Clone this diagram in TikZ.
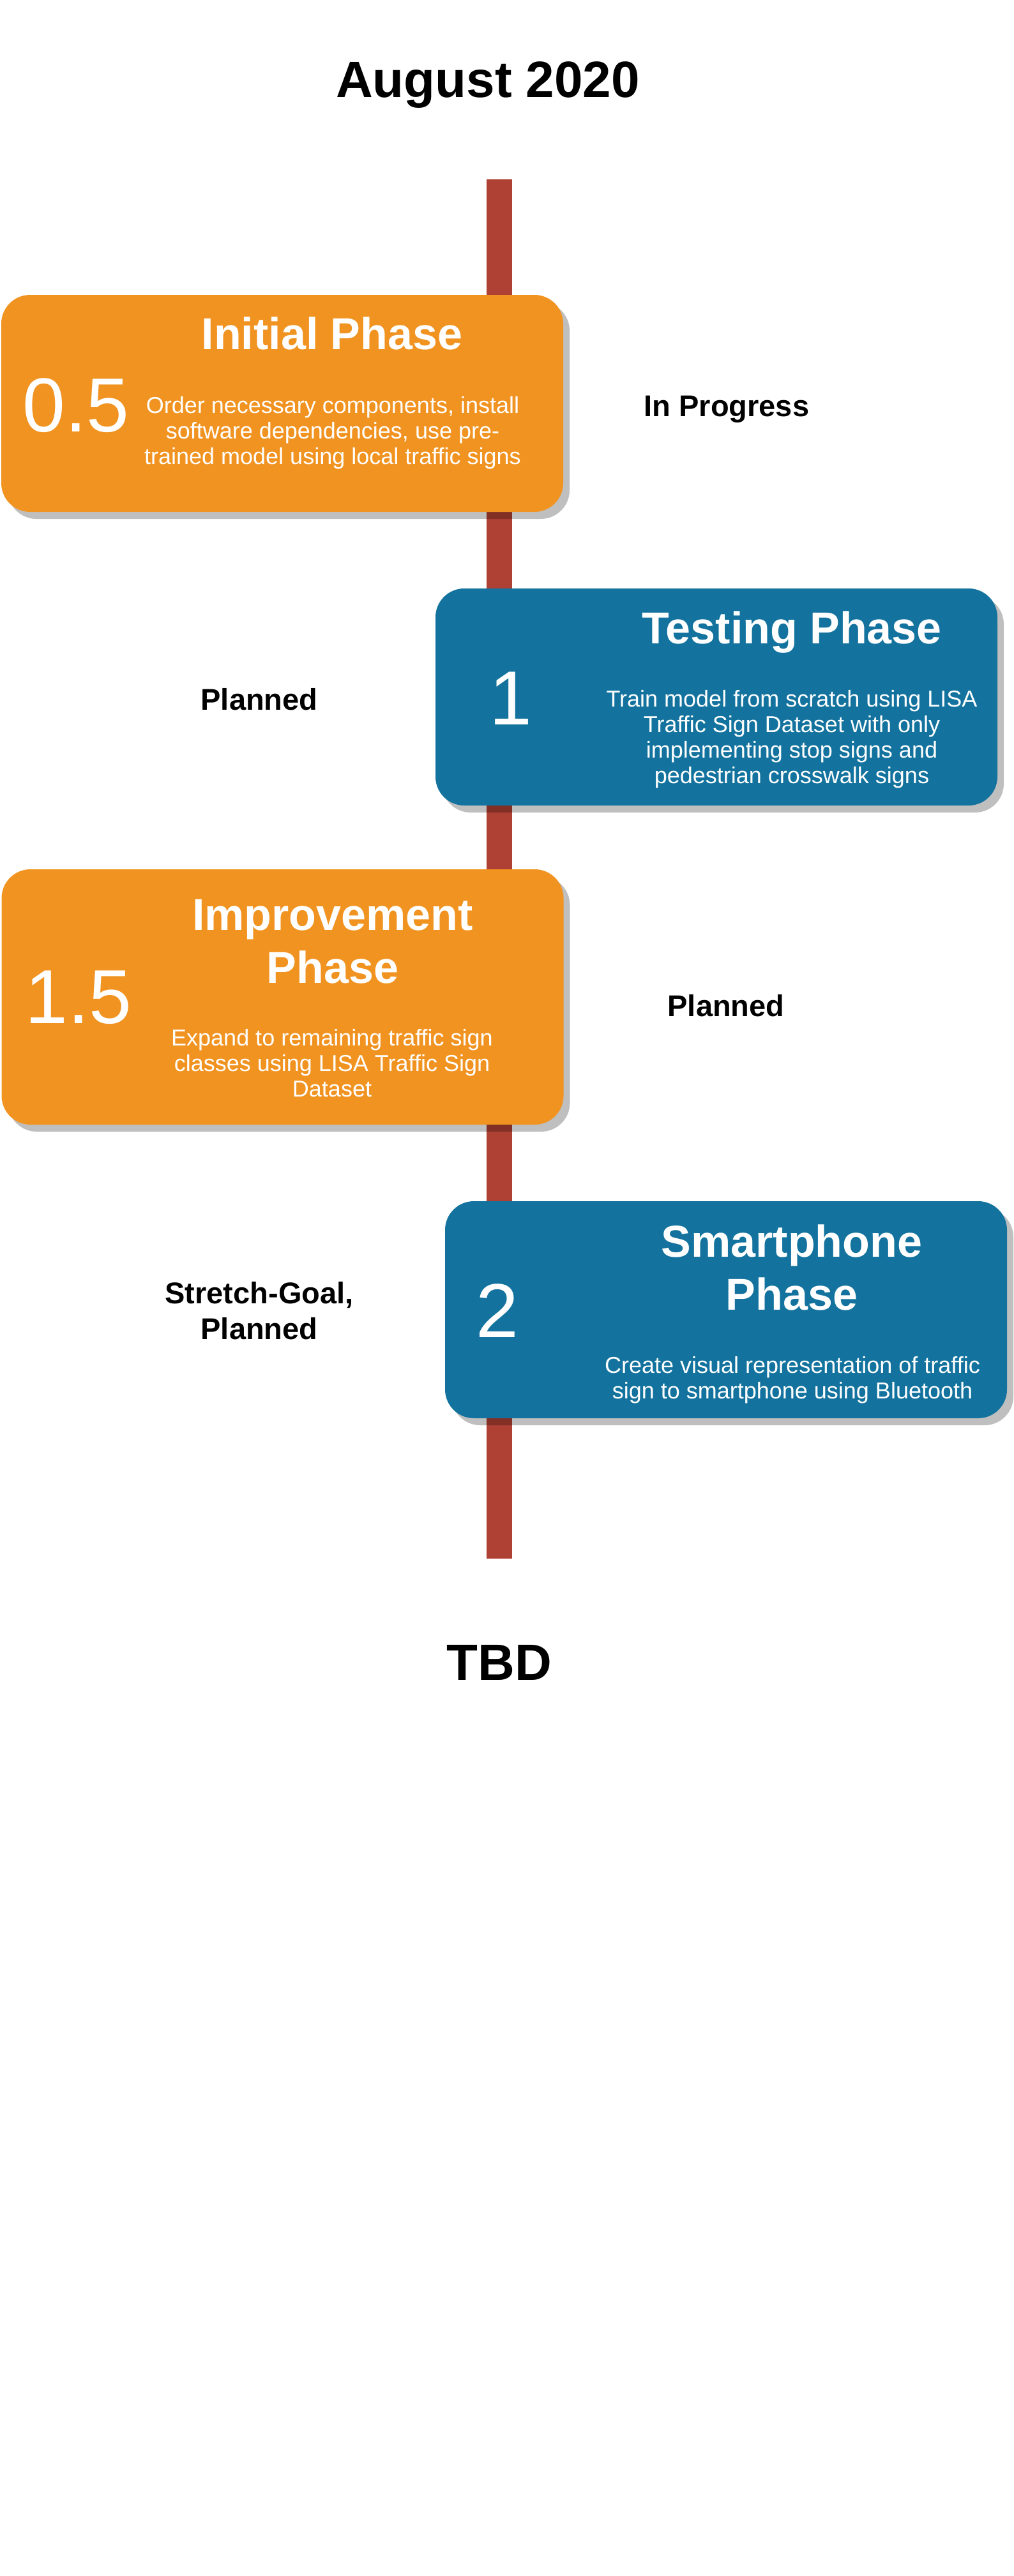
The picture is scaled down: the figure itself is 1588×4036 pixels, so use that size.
\documentclass[tikz,border=0pt]{standalone}
\usepackage{fontspec}
\setmainfont{Liberation Sans}
\usetikzlibrary{shadows}

\definecolor{phaseorange}{RGB}{241,147,32}
\definecolor{phaseblue}{RGB}{19,115,158}
\definecolor{barred}{RGB}{174,65,51}

% multi-line nodes are placed by the baseline of their last line
\tikzset{
  phasebox/.style={rounded corners=22.5pt, inner sep=0pt, outer sep=0pt,
    minimum width=440pt, minimum height=170pt,
    general shadow={fill=black, fill opacity=0.25, shadow xshift=5pt, shadow yshift=-5.5pt}},
  orangebox/.style={phasebox, fill=phaseorange},
  bluebox/.style={phasebox, fill=phaseblue},
  datelabel/.style={anchor=base, inner sep=0pt, font=\fontsize{40}{48}\selectfont\bfseries},
  statuslabel/.style={anchor=base, inner sep=0pt, align=center, font=\fontsize{23.5}{28}\selectfont\bfseries},
  phasetitle/.style={anchor=base, inner sep=0pt, align=center, text=white, font=\fontsize{35}{41.5}\selectfont\bfseries},
  phasenum/.style={anchor=base, inner sep=0pt, text=white, font=\fontsize{60}{72}\selectfont},
  phasetext/.style={anchor=base, inner sep=0pt, align=center, text=white, font=\fontsize{18}{20}\selectfont},
}

\begin{document}
\begin{tikzpicture}[x=0.5pt, y=-0.5pt]
  \useasboundingbox (0,0) rectangle (1588,4036);

  % timeline bar
  \coordinate (bartop) at (762,281);
  \coordinate (barbottom) at (802,2442);
  \fill[barred] (bartop) rectangle (barbottom);

  % end dates
  \node[datelabel] (start) at (764,153) {August 2020};
  \node[datelabel] (finish) at (782,2632) {TBD};

  % phase 0.5
  \node[orangebox] (initial) at (442,632) {};
  \node[phasetitle] (initialtitle) at (520,547) {Initial Phase};
  \node[phasenum] (initialnum) at (119,676) {0.5};
  \node[phasetext] (initialtext) at (521,727) {Order necessary components, install\\software dependencies, use pre-\\trained model using local traffic signs};
  \node[statuslabel] (initialstatus) at (1138,652) {In Progress};

  % phase 1
  \node[bluebox] (testing) at (1122,1092) {};
  \node[phasetitle] (testingtitle) at (1240,1008) {Testing Phase};
  \node[phasenum] (testingnum) at (800,1135) {1};
  \node[phasetext] (testingtext) at (1240,1227) {Train model from scratch using LISA\\Traffic Sign Dataset with only\\implementing stop signs and\\pedestrian crosswalk signs};
  \node[statuslabel] (testingstatus) at (406,1112) {Planned};

  % phase 1.5
  \node[orangebox, minimum height=200pt] (improve) at (442.5,1562) {};
  \node[phasetitle] (improvetitle) at (521,1540) {Improvement\\Phase};
  \node[phasenum] (improvenum) at (123,1603) {1.5};
  \node[phasetext] (improvetext) at (520,1718) {Expand to remaining traffic sign\\classes using LISA Traffic Sign\\Dataset};
  \node[statuslabel] (improvestatus) at (1137,1592) {Planned};

  % phase 2
  \node[bluebox] (phone) at (1137,2052) {};
  \node[phasetitle] (phonetitle) at (1240,2052) {Smartphone\\Phase};
  \node[phasenum] (phonenum) at (779,2095) {2};
  \node[phasetext] (phonetext) at (1241,2191) {Create visual representation of traffic\\sign to smartphone using Bluetooth};
  \node[statuslabel] (phonestatus) at (406,2098) {Stretch-Goal,\\Planned};
\end{tikzpicture}
\end{document}
